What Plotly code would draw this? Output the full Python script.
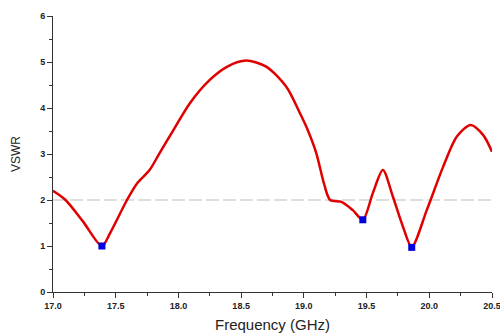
import plotly.graph_objects as go

freq = [17.0, 17.1, 17.24, 17.39, 17.455, 17.59, 17.67, 17.77, 17.85, 17.96, 18.09, 18.25,
        18.39, 18.54, 18.70, 18.86, 18.97, 19.02, 19.10, 19.16, 19.21, 19.30, 19.39, 19.47,
        19.55, 19.63, 19.71, 19.79, 19.86, 19.98, 20.11, 20.22, 20.33, 20.43, 20.5]
vswr = [2.2, 2.0, 1.53, 1.0, 1.28, 2.0, 2.36, 2.65, 3.02, 3.52, 4.10, 4.61,
        4.90, 5.03, 4.90, 4.46, 3.88, 3.59, 3.01, 2.36, 2.0, 1.96, 1.78, 1.57,
        2.15, 2.65, 2.07, 1.42, 0.98, 1.78, 2.72, 3.38, 3.63, 3.41, 3.05]
mark_f = [17.39, 19.47, 19.86]
mark_v = [1.0, 1.57, 0.97]
ref_level = 2.0

fig = go.Figure()
fig.add_trace(go.Scatter(x=[17.0, 20.5], y=[ref_level, ref_level], mode="lines",
                         line=dict(color="#d4d4d4", width=1.5, dash="13px,4px"), hoverinfo="skip"))
fig.add_trace(go.Scatter(x=freq, y=vswr, mode="lines",
                         line=dict(color="#e00000", width=2.5, shape="spline", smoothing=0.8)))
fig.add_trace(go.Scatter(x=mark_f, y=mark_v, mode="markers",
                         marker=dict(symbol="square", size=7, color="#0000dd")))

tick_font = dict(family="Liberation Sans, Arial, sans-serif", size=9, color="#222", weight="bold")
fig.update_layout(
    template="none",
    width=500, height=334, showlegend=False,
    margin=dict(l=53, r=8, t=16, b=42),
    plot_bgcolor="white", paper_bgcolor="white",
    xaxis=dict(range=[17.0, 20.5], tickvals=[17.0, 17.5, 18.0, 18.5, 19.0, 19.5, 20.0, 20.5],
               ticktext=["17.0", "17.5", "18.0", "18.5", "19.0", "19.5", "20.0", "20.5"],
               automargin=False, ticklabeloverflow="allow",
               showgrid=False, zeroline=False, showline=True, linecolor="#333", linewidth=1,
               ticks="outside", ticklen=5, tickcolor="#333",
               minor=dict(dtick=0.25, ticks="outside", ticklen=3, tickcolor="#333", showgrid=False),
               tickfont=tick_font,
               title=dict(text="Frequency (GHz)", font=dict(family="Liberation Sans, Arial, sans-serif", size=15, color="#222"), standoff=9)),
    yaxis=dict(range=[0, 6], dtick=1, showgrid=False, zeroline=False, showline=True,
               automargin=False, ticklabeloverflow="allow",
               linecolor="#333", linewidth=1, ticks="outside", ticklen=5, tickcolor="#333",
               minor=dict(dtick=0.5, ticks="outside", ticklen=3, tickcolor="#333", showgrid=False),
               tickfont=tick_font,
               title=dict(text="VSWR", font=dict(family="Liberation Sans, Arial, sans-serif", size=12, color="#222"), standoff=16)),
)
fig.write_html("out.html", config={"displayModeBar": False},
               post_script="document.body.style.margin='0px';document.body.style.overflow='hidden';")
